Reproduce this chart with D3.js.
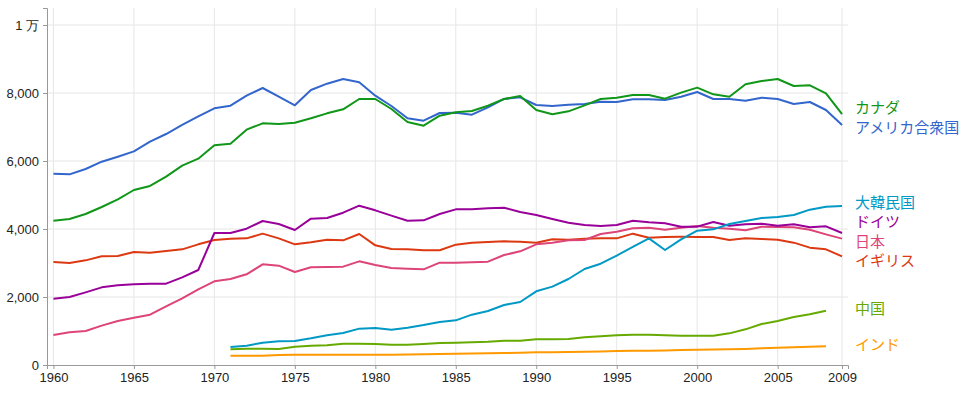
<!DOCTYPE html>
<html lang="ja">
<head>
<meta charset="UTF-8">
<title>一人当たりエネルギー消費</title>
<script src="https://cdn.jsdelivr.net/npm/d3@7"></script>
<style>
  body { margin: 0; background: #fff; }
  .tick text { font-family: "Liberation Sans", Arial, sans-serif; font-size: 13px; fill: #222; }
  .series-label { font-family: "Noto Sans CJK JP", sans-serif; font-size: 15px; }
</style>
</head>
<body>
<div id="chart"></div>
<script>
// years on the x axis
const yearsFull = d3.range(1960, 2010);   // 1960..2009
const yearsLate = d3.range(1971, 2010);   // 1971..2009
const yearsLate08 = d3.range(1971, 2009); // 1971..2008

const xTicks = [1960, 1965, 1970, 1975, 1980, 1985, 1990, 1995, 2000, 2005, 2009];
const yTicks = [0, 2000, 4000, 6000, 8000, 10000];

// values
const usa = [5626, 5608, 5765, 5980, 6127, 6284, 6568, 6794, 7059, 7314,
  7549, 7627, 7921, 8147, 7892, 7637, 8088, 8274, 8412, 8314,
  7921, 7618, 7255, 7186, 7412, 7422, 7363, 7578, 7824, 7873,
  7647, 7618, 7657, 7676, 7745, 7735, 7814, 7814, 7794, 7892,
  8029, 7824, 7824, 7775, 7863, 7824, 7676, 7735, 7500, 7059];
const canada = [4245, 4294, 4441, 4647, 4873, 5147, 5265, 5539, 5863, 6069,
  6461, 6510, 6922, 7108, 7088, 7127, 7255, 7402, 7520, 7824,
  7824, 7529, 7147, 7039, 7333, 7431, 7471, 7627, 7824, 7912,
  7500, 7373, 7461, 7637, 7824, 7863, 7941, 7941, 7833, 8010,
  8157, 7961, 7892, 8255, 8353, 8412, 8206, 8225, 7990, 7382];
const germany = [1951, 2000, 2137, 2284, 2343, 2373, 2392, 2392, 2578, 2794,
  3882, 3882, 4010, 4235, 4147, 3971, 4304, 4323, 4480, 4686,
  4549, 4392, 4245, 4255, 4441, 4578, 4578, 4608, 4627, 4500,
  4412, 4294, 4186, 4118, 4088, 4118, 4245, 4196, 4167, 4069,
  4069, 4206, 4098, 4137, 4157, 4098, 4137, 4049, 4078, 3882];
const uk = [3029, 3000, 3078, 3196, 3206, 3323, 3304, 3353, 3402, 3549,
  3676, 3716, 3725, 3863, 3725, 3549, 3608, 3686, 3667, 3853,
  3520, 3412, 3402, 3373, 3373, 3539, 3598, 3618, 3637, 3627,
  3598, 3696, 3686, 3716, 3725, 3725, 3863, 3745, 3765, 3770,
  3765, 3765, 3676, 3725, 3706, 3686, 3598, 3451, 3402, 3196];
const japan = [882, 961, 1000, 1157, 1294, 1392, 1480, 1725, 1961, 2225,
  2461, 2529, 2667, 2961, 2922, 2735, 2873, 2882, 2892, 3049,
  2941, 2853, 2833, 2814, 3010, 3010, 3020, 3039, 3235, 3343,
  3549, 3598, 3667, 3676, 3853, 3922, 4020, 4039, 3980, 4039,
  4088, 4039, 4010, 3961, 4069, 4059, 4049, 3980, 3843, 3716];
const korea = [529, 568, 657, 696, 706, 784, 873, 941, 1069,
  1088, 1039, 1098, 1176, 1265, 1314, 1480, 1588, 1765, 1853,
  2167, 2304, 2529, 2824, 2980, 3220, 3476, 3725, 3382, 3696,
  3951, 3990, 4147, 4235, 4323, 4353, 4412, 4569, 4657, 4676];
const china = [461, 480, 480, 470, 539, 568, 578, 627, 627,
  618, 598, 598, 618, 647, 657, 667, 686, 716, 716,
  755, 755, 765, 814, 843, 873, 892, 892, 873, 863,
  863, 863, 931, 1049, 1206, 1294, 1412, 1490, 1598];
const india = [275, 275, 275, 294, 304, 304, 304, 304, 304,
  304, 304, 310, 315, 323, 333, 340, 345, 352, 360,
  372, 378, 382, 390, 400, 412, 418, 422, 428, 440,
  451, 455, 460, 470, 490, 510, 520, 535, 549];

const seriesNames = ["カナダ", "アメリカ合衆国", "大韓民国", "ドイツ", "日本", "イギリス", "中国", "インド"];
const seriesColors = ["#109618", "#3366cc", "#0099c6", "#990099", "#dd4477", "#dc3912", "#66aa00", "#ff9900"];
const seriesValues = [canada, usa, korea, germany, japan, uk, china, india];
const seriesYears = [yearsFull, yearsFull, yearsLate, yearsFull, yearsFull, yearsFull, yearsLate08, yearsLate08];

const series = seriesNames.map((name, i) => ({
  name: name,
  color: seriesColors[i],
  points: seriesYears[i].map((yr, j) => ({ year: yr, value: seriesValues[i][j] }))
}));

const width = 968, height = 394;
const svg = d3.select("#chart").append("svg")
  .attr("width", width)
  .attr("height", height);

const x = d3.scaleLinear().domain([1959.6, 2009.37]).range([47, 848]);
const y = d3.scaleLinear().domain([0, 10500]).range([365, 8]);

// grid
svg.append("g")
  .selectAll("line.h")
  .data(yTicks.slice(1))
  .enter().append("line")
    .attr("x1", x.range()[0]).attr("x2", x.range()[1])
    .attr("y1", d => y(d)).attr("y2", d => y(d))
    .attr("stroke", "#e6e6e6");
svg.append("g")
  .selectAll("line.v")
  .data(xTicks)
  .enter().append("line")
    .attr("x1", d => x(d)).attr("x2", d => x(d))
    .attr("y1", y.range()[1]).attr("y2", y.range()[0])
    .attr("stroke", "#e6e6e6");

// axes
const yAxis = d3.axisLeft(y)
  .tickValues(yTicks)
  .tickSize(4)
  .tickPadding(4)
  .tickFormat(d => d === 10000 ? "1 万" : d3.format(",")(d));
const gy = svg.append("g")
  .attr("transform", `translate(${x.range()[0]},0)`)
  .call(yAxis);

const xAxis = d3.axisBottom(x)
  .tickValues(xTicks)
  .tickSize(4)
  .tickPadding(4)
  .tickFormat(d3.format("d"));
const gx = svg.append("g")
  .attr("transform", `translate(0,${y.range()[0]})`)
  .call(xAxis);

[gx, gy].forEach(g => {
  g.select(".domain").attr("stroke", "#999");
  g.selectAll(".tick line").attr("stroke", "#999");
});

// lines
const line = d3.line()
  .x(d => x(d.year))
  .y(d => y(d.value));

svg.append("g")
  .selectAll("path")
  .data(series.slice().reverse())
  .enter().append("path")
    .attr("fill", "none")
    .attr("stroke", d => d.color)
    .attr("stroke-width", 2)
    .attr("stroke-linejoin", "round")
    .attr("d", d => line(d.points));

// end labels, spread apart so they don't overlap
const gap = 19.5;
const labels = series.map(s => ({ s: s, want: y(s.points[s.points.length - 1].value) - 3 }))
  .sort((a, b) => a.want - b.want);
let groups = labels.map(l => ({ items: [l], mean: l.want }));
let merged = true;
while (merged) {
  merged = false;
  for (let i = 0; i < groups.length - 1; i++) {
    const a = groups[i], b = groups[i + 1];
    const aBottom = a.mean + (a.items.length - 1) * gap / 2;
    const bTop = b.mean - (b.items.length - 1) * gap / 2;
    if (bTop - aBottom < gap) {
      const items = a.items.concat(b.items);
      groups.splice(i, 2, { items: items, mean: d3.mean(items, d => d.want) });
      merged = true;
      break;
    }
  }
}
groups.forEach(g => {
  g.items.forEach((l, k) => { l.pos = g.mean + (k - (g.items.length - 1) / 2) * gap; });
});

svg.append("g")
  .selectAll("text")
  .data(labels)
  .enter().append("text")
    .attr("class", "series-label")
    .attr("x", 855)
    .attr("y", d => d.pos)
    .attr("dominant-baseline", "central")
    .attr("fill", d => d.s.color)
    .text(d => d.s.name);
</script>
</body>
</html>
